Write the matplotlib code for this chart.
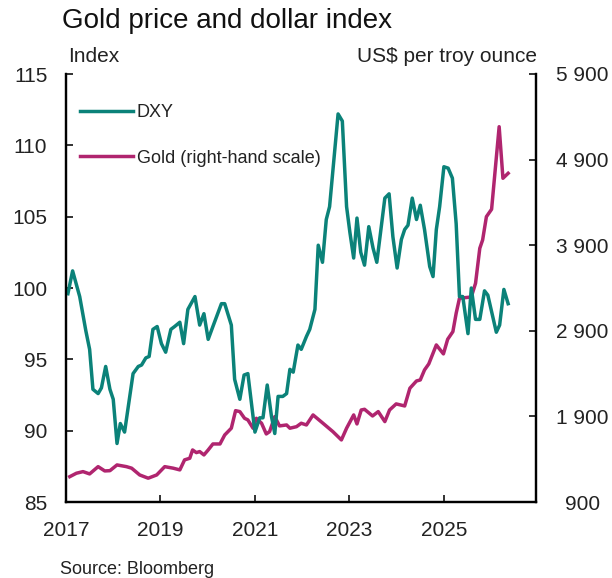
import matplotlib
matplotlib.use("Agg")
import matplotlib.pyplot as plt
from matplotlib.lines import Line2D
from matplotlib.ticker import FuncFormatter

plt.rcParams['font.family'] = ['Liberation Sans', 'DejaVu Sans']

# DXY index (decimal year, value)
dxy_t = [2017.04, 2017.14, 2017.29, 2017.42, 2017.50, 2017.57, 2017.68, 2017.75, 2017.84, 2017.93,
         2018.00, 2018.08, 2018.15, 2018.24, 2018.42, 2018.53, 2018.60, 2018.69, 2018.76, 2018.84,
         2018.93, 2019.02, 2019.11, 2019.22, 2019.30, 2019.41, 2019.49, 2019.58, 2019.73, 2019.83,
         2019.92, 2020.01, 2020.11, 2020.29, 2020.36, 2020.50, 2020.57, 2020.68, 2020.77, 2020.85,
         2021.00, 2021.10, 2021.17, 2021.26, 2021.35, 2021.42, 2021.49, 2021.59, 2021.67, 2021.74,
         2021.81, 2021.91, 2021.98, 2022.09, 2022.16, 2022.27, 2022.34, 2022.43, 2022.51, 2022.58,
         2022.76, 2022.85, 2022.94, 2023.01, 2023.09, 2023.16, 2023.24, 2023.32, 2023.41, 2023.50,
         2023.58, 2023.75, 2023.84, 2023.92, 2024.01, 2024.10, 2024.17, 2024.24, 2024.33, 2024.42,
         2024.50, 2024.59, 2024.70, 2024.77, 2024.84, 2024.91, 2025.00, 2025.09, 2025.18, 2025.26,
         2025.33, 2025.40, 2025.51, 2025.58, 2025.67, 2025.76, 2025.86, 2025.93, 2026.11, 2026.18,
         2026.27, 2026.36]
dxy = [99.6, 101.2, 99.4, 97.0, 95.7, 92.9, 92.6, 93.0, 94.5, 92.9,
       92.2, 89.1, 90.5, 89.9, 94.0, 94.5, 94.6, 95.1, 95.2, 97.1,
       97.3, 96.1, 95.5, 97.1, 97.3, 97.6, 96.1, 98.5, 99.4, 97.4,
       98.2, 96.4, 97.3, 98.9, 98.9, 97.4, 93.6, 92.2, 93.9, 94.0,
       89.9, 90.9, 90.9, 93.2, 91.0, 89.8, 92.4, 92.4, 92.6, 94.3,
       94.1, 96.0, 95.7, 96.6, 97.1, 98.5, 103.0, 101.8, 104.8, 105.7,
       112.2, 111.7, 105.7, 103.9, 102.1, 104.9, 102.5, 101.6, 104.3, 102.8,
       101.8, 106.3, 106.6, 103.6, 101.4, 103.4, 104.1, 104.4, 106.3, 104.8,
       105.8, 104.1, 101.5, 100.8, 104.1, 105.7, 108.5, 108.4, 107.7, 104.5,
       99.4, 99.4, 96.8, 100.0, 97.8, 97.8, 99.8, 99.5, 96.9, 97.4,
       99.9, 98.9]

# Gold, US$ per troy ounce (decimal year, value)
gold_t = [2017.08, 2017.22, 2017.36, 2017.50, 2017.68, 2017.82, 2017.93, 2018.08, 2018.28, 2018.39,
          2018.56, 2018.74, 2018.92, 2019.09, 2019.27, 2019.41, 2019.51, 2019.62, 2019.68, 2019.76,
          2019.83, 2019.92, 2020.01, 2020.11, 2020.26, 2020.36, 2020.50, 2020.59, 2020.68, 2020.78,
          2020.85, 2020.96, 2021.03, 2021.14, 2021.24, 2021.31, 2021.42, 2021.52, 2021.67, 2021.74,
          2021.88, 2021.98, 2022.09, 2022.23, 2022.44, 2022.65, 2022.83, 2022.94, 2023.09, 2023.16,
          2023.25, 2023.32, 2023.49, 2023.61, 2023.75, 2023.85, 2023.99, 2024.17, 2024.28, 2024.42,
          2024.50, 2024.59, 2024.68, 2024.84, 2024.99, 2025.08, 2025.19, 2025.26, 2025.33, 2025.58,
          2025.67, 2025.76, 2025.82, 2025.90, 2026.01, 2026.17, 2026.25, 2026.36]
gold = [1196, 1236, 1255, 1228, 1313, 1263, 1266, 1333, 1313, 1295,
        1216, 1178, 1216, 1313, 1295, 1275, 1392, 1411, 1508, 1477,
        1489, 1450, 1508, 1578, 1578, 1683, 1762, 1967, 1956, 1878,
        1859, 1762, 1878, 1820, 1695, 1722, 1897, 1789, 1800, 1762,
        1780, 1820, 1800, 1917, 1820, 1722, 1625, 1762, 1917, 1812,
        1975, 1983, 1905, 1956, 1839, 1975, 2046, 2022, 2229, 2314,
        2326, 2443, 2513, 2735, 2630, 2801, 2890, 3105, 3280, 3295,
        3455, 3864, 3961, 4233, 4320, 5284, 4682, 4740]

year_ticks = [2017, 2019, 2021, 2023, 2025]
left_ticks = [85, 90, 95, 100, 105, 110, 115]
right_ticks = [900, 1900, 2900, 3900, 4900, 5900]

teal = '#0b8279'
plum = '#b0256f'
ink = '#222222'

fig = plt.figure(figsize=(6.12, 5.78), dpi=100)
ax = fig.add_axes([66 / 612, 1 - 502 / 578, 470 / 612, 428 / 578])
ax2 = ax.twinx()
ax.set_zorder(ax2.get_zorder() + 1)
ax.patch.set_visible(False)

ax2.plot(gold_t, gold, color=plum, lw=2.5, solid_joinstyle='round')
ax.plot(dxy_t, dxy, color=teal, lw=2.5, solid_joinstyle='round')

ax.set_xlim(2017, 2026.95)
ax.set_ylim(85, 115)
ax2.set_ylim(900, 5900)
ax.set_xticks(year_ticks)
ax.set_yticks(left_ticks)
ax2.set_yticks(right_ticks)
ax2.yaxis.set_major_formatter(FuncFormatter(lambda v, p: f"{int(v):,}".replace(",", " ")))

for a in (ax, ax2):
    for s in a.spines.values():
        s.set_linewidth(1.6)
    a.spines['top'].set_visible(False)
ax.tick_params(axis='both', direction='in', length=5, width=1.3, labelsize=15, colors=ink)
ax.tick_params(axis='y', pad=13.5)
ax.tick_params(axis='x', pad=14)
ax2.tick_params(axis='y', direction='in', length=5, width=1.3, labelsize=15, colors=ink, pad=33.5)
for lab in ax2.get_yticklabels():
    lab.set_horizontalalignment('center')

handles = [Line2D([], [], color=teal, lw=2.5), Line2D([], [], color=plum, lw=2.5)]
ax.legend(handles, ['DXY', 'Gold (right-hand scale)'], loc='upper left',
          bbox_to_anchor=(0.029, 0.93), frameon=False, fontsize=13, labelcolor=ink,
          handlelength=2.95, handletextpad=0.2, labelspacing=1.59,
          borderaxespad=0, borderpad=0)

fig.text(62 / 612, 1 - 21 / 578, 'Gold price and dollar index', fontsize=20,
         ha='left', va='center', color='#111111')
fig.text(68 / 612, 1 - 56 / 578, 'Index', fontsize=15, ha='left', va='center', color=ink)
fig.text(537 / 612, 1 - 56 / 578, 'US$ per troy ounce', fontsize=15, ha='right', va='center',
         color=ink)
fig.text(60 / 612, 1 - 574 / 578, 'Source: Bloomberg', fontsize=13, ha='left', va='baseline',
         color=ink)

fig.savefig('out.png', dpi=100)
